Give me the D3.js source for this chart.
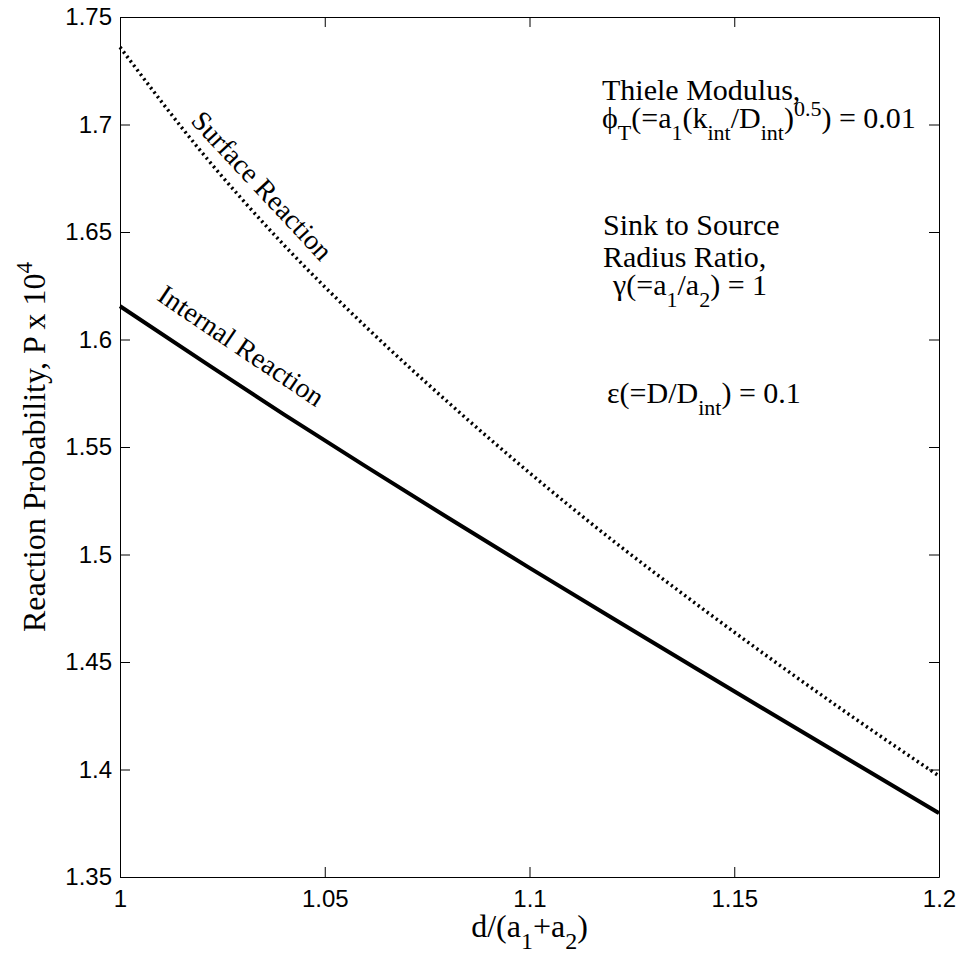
<!DOCTYPE html>
<html>
<head>
<meta charset="utf-8">
<script src="https://cdn.jsdelivr.net/npm/d3@7"></script>
<style>
  body { margin: 0; background: #fff; }
  .tick text { font-family: "Liberation Sans", Arial, sans-serif; font-size: 24px; fill: #000; }
  .tick line, .domain { stroke: #000; stroke-width: 1; }
  .serif { font-family: "Liberation Serif", "Times New Roman", serif; fill: #000; }
</style>
</head>
<body>
<div id="chart"></div>
<script>
var svgWidth = 959;
var svgHeight = 977;

var margin = { top: 17, right: 20, bottom: 100, left: 120 };
var width = svgWidth - margin.left - margin.right;
var height = svgHeight - margin.top - margin.bottom;

// data
var xValues = [1.00, 1.02, 1.04, 1.06, 1.08, 1.10, 1.12, 1.14, 1.16, 1.18, 1.20];
var internalReaction = [1.6155, 1.5902, 1.5652, 1.5410, 1.5172, 1.4938, 1.4707, 1.4478, 1.4250, 1.4023, 1.3797];
var surfaceReaction = [1.736, 1.687, 1.644, 1.606, 1.571, 1.538, 1.507, 1.478, 1.450, 1.423, 1.397];

var xTickValues = [1, 1.05, 1.1, 1.15, 1.2];
var xTickLabels = ["1", "1.05", "1.1", "1.15", "1.2"];
var yTickValues = [1.35, 1.4, 1.45, 1.5, 1.55, 1.6, 1.65, 1.7, 1.75];
var yTickLabels = ["1.35", "1.4", "1.45", "1.5", "1.55", "1.6", "1.65", "1.7", "1.75"];

var svg = d3.select("#chart")
  .append("svg")
  .attr("width", svgWidth)
  .attr("height", svgHeight);

var chartGroup = svg.append("g")
  .attr("transform", `translate(${margin.left}, ${margin.top})`);

var x = d3.scaleLinear().domain([1, 1.2]).range([0, width]);
var y = d3.scaleLinear().domain([1.35, 1.75]).range([height, 0]);

// axes, ticks pointing inward on all four sides
chartGroup.append("g")
  .attr("transform", `translate(0, ${height})`)
  .call(d3.axisBottom(x).tickValues(xTickValues).tickSizeInner(-10).tickSizeOuter(0).tickPadding(13)
    .tickFormat((d, i) => xTickLabels[i]));

chartGroup.append("g")
  .call(d3.axisTop(x).tickValues(xTickValues).tickSizeInner(-10).tickSizeOuter(0).tickFormat(""));

chartGroup.append("g")
  .call(d3.axisLeft(y).tickValues(yTickValues).tickSizeInner(-10).tickSizeOuter(0).tickPadding(8)
    .tickFormat((d, i) => yTickLabels[i]));

chartGroup.append("g")
  .attr("transform", `translate(${width}, 0)`)
  .call(d3.axisRight(y).tickValues(yTickValues).tickSizeInner(-10).tickSizeOuter(0).tickFormat(""));

// lines
var line = d3.line()
  .x((d, i) => x(xValues[i]))
  .y(d => y(d))
  .curve(d3.curveMonotoneX);

chartGroup.append("path")
  .datum(surfaceReaction)
  .attr("fill", "none")
  .attr("stroke", "#000")
  .attr("stroke-width", 3.5)
  .attr("stroke-dasharray", "2.2,3.4")
  .attr("d", line);

chartGroup.append("path")
  .datum(internalReaction)
  .attr("fill", "none")
  .attr("stroke", "#000")
  .attr("stroke-width", 4)
  .attr("d", line);

// text with sub/superscripts
function richText(g, px, py, size, parts, small) {
  small = small || 22;
  var t = g.append("text").attr("class", "serif")
    .attr("x", px).attr("y", py)
    .style("font-size", size + "px");
  var level = 0;
  parts.forEach(function(p) {
    var target = p[1] === "sub" ? 12 : p[1] === "sup" ? -12 : 0;
    t.append("tspan")
      .attr("dy", target - level)
      .style("font-size", (p[1] ? small : size) + "px")
      .text(p[0]);
    level = target;
  });
  return t;
}

richText(svg, 602, 100, 30, [["Thiele Modulus,"]]);
richText(svg, 602, 128, 30, [
  ["\u03D5"], ["T", "sub"], ["(=a"], ["1", "sub"], ["(k"], ["int", "sub"],
  ["/D"], ["int", "sub"], [")"], ["0.5", "sup"], [") = 0.01"]
]);
richText(svg, 603, 235, 30, [["Sink to Source"]]);
richText(svg, 603, 267, 30, [["Radius Ratio,"]]);
richText(svg, 613, 295, 30, [["\u03B3(=a"], ["1", "sub"], ["/a"], ["2", "sub"], [") = 1"]]);
richText(svg, 607, 403, 30, [["\u03B5(=D/D"], ["int", "sub"], [") = 0.1"]]);

// curve labels
chartGroup.append("text").attr("class", "serif")
  .attr("transform", `translate(${x(1.033)}, ${y(1.6686)}) rotate(47)`)
  .attr("text-anchor", "middle")
  .style("font-size", "28px")
  .text("Surface Reaction");

chartGroup.append("text").attr("class", "serif")
  .attr("transform", `translate(${x(1.0283)}, ${y(1.5935)}) rotate(34)`)
  .attr("text-anchor", "middle")
  .style("font-size", "28px")
  .text("Internal Reaction");

// axis labels
var xl = richText(svg, 0, 937, 32, [["d/(a"], ["1", "sub"], ["+a"], ["2", "sub"], [")"]], 24);
var xw = xl.node().getComputedTextLength();
xl.attr("x", margin.left + width / 2 - xw / 2);

var yl = svg.append("text").attr("class", "serif")
  .attr("transform", `translate(45, ${margin.top + height / 2}) rotate(-90)`)
  .attr("text-anchor", "middle")
  .style("font-size", "32px");
yl.append("tspan").text("Reaction Probability, P x 10");
yl.append("tspan").attr("dy", -13).style("font-size", "23px").text("4");
</script>
</body>
</html>
